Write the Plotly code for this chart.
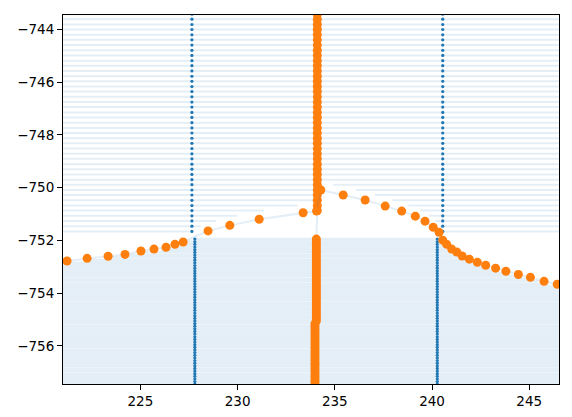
import numpy as np
import plotly.graph_objects as go

# ---- data ----
x_range = [221.02, 246.53]
y_range = [-757.44, -743.46]

# orange dotted curve (left branch, peak, right branch)
curve_x = [221.23, 222.26, 223.34, 224.21, 225.03, 225.70, 226.32, 226.78, 227.20,
           228.48, 229.60, 231.11, 233.37, 234.06, 234.28, 235.43, 236.56, 237.59,
           238.44, 239.14, 239.64, 240.06, 240.36, 240.55, 240.75, 241.01, 241.27,
           241.55, 241.92, 242.33, 242.76, 243.27, 243.80, 244.44, 245.06, 245.76, 246.44]
curve_y = [-752.78, -752.68, -752.60, -752.53, -752.40, -752.33, -752.26, -752.15, -752.06,
           -751.64, -751.43, -751.20, -750.95, -750.89, -750.09, -750.28, -750.47, -750.70,
           -750.89, -751.08, -751.27, -751.50, -751.69, -751.99, -752.15, -752.33, -752.44,
           -752.59, -752.71, -752.83, -752.94, -753.05, -753.17, -753.29, -753.40, -753.55, -753.66]

# grid levels (upper, coarse) and (lower, dense)
upper_levels = [-743.43, -743.62, -743.82, -744.01, -744.21, -744.40, -744.60, -744.80, -744.99,
                -745.19, -745.38, -745.58, -745.78, -745.97, -746.17, -746.36, -746.56,
                -746.76, -746.95, -747.15, -747.34, -747.54, -747.74, -747.93, -748.13,
                -748.32, -748.52, -748.72, -748.91, -749.11, -749.30, -749.50, -749.70,
                -749.89, -750.09, -750.28, -750.48, -750.68, -750.87, -751.07, -751.26,
                -751.46, -751.66]
lower_levels = [-751.95, -752.05, -752.15, -752.25, -752.35, -752.45, -752.55, -752.65,
                -752.75, -752.85, -752.95, -753.05, -753.15, -753.25, -753.35, -753.45,
                -753.55, -753.65, -753.75, -753.85, -753.95, -754.05, -754.15, -754.25,
                -754.35, -754.45, -754.55, -754.65, -754.75, -754.85, -754.95, -755.05,
                -755.15, -755.25, -755.35, -755.45, -755.55, -755.65, -755.75, -755.85,
                -755.95, -756.05, -756.15, -756.25, -756.35, -756.45, -756.55, -756.65,
                -756.75, -756.85, -756.95, -757.05, -757.15, -757.25, -757.35, -757.45]

# column / vertical marker positions
col_upper_x = 234.10
col_upper_last = -750.87
col_lower_x_top = 234.05
col_lower_x_bottom = 233.98
col_lower_switch = -755.10
blue_upper_x = [227.65, 240.55]
blue_lower_x = [227.80, 240.27]

xtick_vals = [225, 230, 235, 240, 245]
ytick_vals = [-744, -746, -748, -750, -752, -754, -756]

# ---- build faint grid lines ----
xs = np.linspace(x_range[0] - 0.5, x_range[1] + 0.5, 2000)
cy = np.interp(xs, curve_x, curve_y)
upper_bound = np.maximum(cy + 0.3, upper_levels[-1] - 0.02)
lower_bound = np.minimum(cy - 0.06, lower_levels[0] + 0.02)


def segments(levels, visible_fn):
    sx, sy = [], []
    for L in levels:
        m = visible_fn(L)
        i = 0
        n = len(xs)
        while i < n:
            if m[i]:
                j = i
                while j + 1 < n and m[j + 1]:
                    j += 1
                sx += [float(xs[i]), float(xs[j]), None]
                sy += [L, L, None]
                i = j + 1
            else:
                i += 1
    return sx, sy


ux, uy = segments(upper_levels, lambda L: L >= upper_bound)
lx, ly = segments(lower_levels, lambda L: L <= lower_bound)

faint = "rgba(31,119,180,0.12)"
orange = "#ff7f0e"
blue = "#1f77b4"

fig = go.Figure()
fig.add_trace(go.Scatter(x=ux, y=uy, mode="lines", line=dict(color=faint, width=2),
                         hoverinfo="skip", showlegend=False))
fig.add_trace(go.Scatter(x=lx, y=ly, mode="lines", line=dict(color=faint, width=2.6),
                         hoverinfo="skip", showlegend=False))

# blue vertical markers
bx, by = [], []
for L in upper_levels:
    for xv in blue_upper_x:
        bx.append(xv); by.append(L)
for L in lower_levels:
    for xv in blue_lower_x:
        bx.append(xv); by.append(L)
fig.add_trace(go.Scatter(x=bx, y=by, mode="markers",
                         marker=dict(color=blue, size=3.2, line=dict(width=0)),
                         showlegend=False))

# orange column (with faint connecting line)
cx, cyy = [], []
for L in upper_levels:
    if L >= col_upper_last:
        cx.append(col_upper_x); cyy.append(L)
for L in lower_levels:
    cx.append(col_lower_x_top if L >= col_lower_switch else col_lower_x_bottom); cyy.append(L)
fig.add_trace(go.Scatter(x=cx, y=cyy, mode="lines+markers",
                         line=dict(color=faint, width=2),
                         marker=dict(color=orange, size=9, line=dict(width=0)),
                         showlegend=False))

# orange curve
fig.add_trace(go.Scatter(x=curve_x, y=curve_y, mode="lines+markers",
                         line=dict(color=faint, width=2),
                         marker=dict(color=orange, size=9, line=dict(width=0)),
                         showlegend=False))

axis_common = dict(showgrid=False, zeroline=False, showline=True, linecolor="black",
                   linewidth=1, mirror=True, ticks="outside", ticklen=5, tickwidth=1,
                   tickcolor="black", automargin=False,
                   tickfont=dict(family="DejaVu Sans", size=13.5, color="black"))
fig.update_xaxes(range=x_range, tickvals=xtick_vals, **axis_common)
fig.update_yaxes(range=y_range, tickvals=ytick_vals, **axis_common)
# page body has an 8px default margin, so the figure is sized/margined to compensate
fig.update_layout(width=556, height=401, margin=dict(l=55, r=5, t=7, b=25),
                  plot_bgcolor="white", paper_bgcolor="white")
fig.write_html("out.html")
